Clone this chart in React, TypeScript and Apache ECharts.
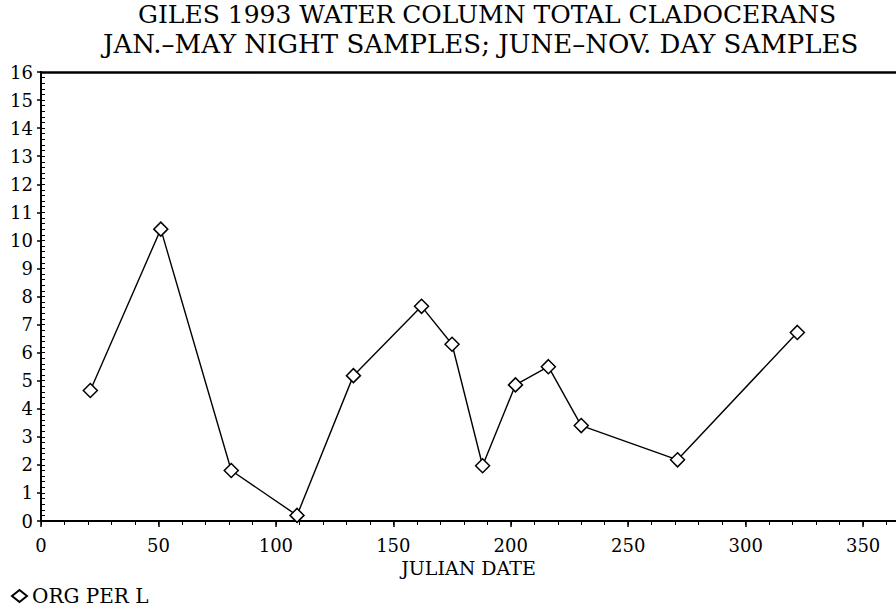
import React, { useEffect, useRef } from "react";
import * as echarts from "echarts";

const TITLE_LINE_1 = "GILES 1993 WATER COLUMN TOTAL CLADOCERANS";
const TITLE_LINE_2 = "JAN.–MAY NIGHT SAMPLES; JUNE–NOV. DAY SAMPLES";
const X_NAME = "JULIAN DATE";
const SERIES_NAME = "ORG PER L";

const julianDates = [21, 51, 81, 109, 133, 162, 175, 188, 202, 216, 230, 271, 322];
const orgPerL = [4.65, 10.4, 1.8, 0.2, 5.18, 7.65, 6.3, 1.97, 4.85, 5.5, 3.4, 2.18, 6.72];

const X_MIN = 0;
const X_MAX = 364;
const X_INTERVAL = 50;
const X_MINOR = 10;
const Y_MIN = 0;
const Y_MAX = 16;
const Y_INTERVAL = 1;
const Y_MINOR = 0.2;

const FONT = "DejaVu Serif";

export default function App() {
  const ref = useRef<HTMLDivElement>(null);
  useEffect(() => {
    if (!ref.current) return;
    const chart = echarts.init(ref.current, null, { renderer: "svg" });
    const data = julianDates.map((d, i) => [d, orgPerL[i]]);
    chart.setOption({
      animation: false,
      backgroundColor: "#ffffff",
      textStyle: { fontFamily: FONT, color: "#000" },
      grid: { left: 41, right: 0, top: 72, bottom: 87, containLabel: false },
      title: [
        {
          text: TITLE_LINE_1,
          left: 138,
          top: 2,
          padding: 0,
          textStyle: { fontFamily: FONT, fontSize: 25, fontWeight: "normal", color: "#000" },
        },
        {
          text: TITLE_LINE_2,
          left: 103,
          top: 31,
          padding: 0,
          textStyle: { fontFamily: FONT, fontSize: 26, fontWeight: "normal", color: "#000" },
        },
      ],
      legend: {
        left: 6,
        top: 581,
        icon: "diamond",
        itemWidth: 15,
        itemHeight: 12,
        itemGap: 6,
        textStyle: { fontFamily: FONT, fontSize: 20, color: "#000" },
        data: [SERIES_NAME],
      },
      xAxis: [
        {
          type: "value",
          min: X_MIN,
          max: X_MAX,
          interval: X_INTERVAL,
          position: "bottom",
          offset: 0,
          name: X_NAME,
          nameLocation: "middle",
          nameGap: 37,
          nameTextStyle: { fontFamily: FONT, fontSize: 19, color: "#000" },
          axisLine: { show: true, lineStyle: { color: "#000", width: 2 } },
          axisTick: { show: true, inside: false, length: 6, lineStyle: { color: "#000", width: 1.5 } },
          axisLabel: {
            show: true,
            margin: 15,
            fontFamily: FONT,
            fontSize: 18,
            color: "#000",
            showMaxLabel: false,
          },
          splitLine: { show: false },
        },
        {
          type: "value",
          min: X_MIN,
          max: X_MAX,
          interval: X_MINOR,
          position: "bottom",
          offset: 0,
          axisLine: { show: false },
          axisTick: { show: true, inside: false, length: 4, lineStyle: { color: "#000", width: 1 } },
          axisLabel: { show: false },
          splitLine: { show: false },
        },
        {
          type: "value",
          min: X_MIN,
          max: X_MAX,
          position: "top",
          offset: 0,
          axisLine: { show: true, lineStyle: { color: "#000", width: 2.5 } },
          axisTick: { show: false },
          axisLabel: { show: false },
          splitLine: { show: false },
        },
      ],
      yAxis: [
        {
          type: "value",
          min: Y_MIN,
          max: Y_MAX,
          interval: Y_INTERVAL,
          position: "left",
          offset: 0,
          axisLine: { show: true, lineStyle: { color: "#000", width: 2 } },
          axisTick: { show: true, inside: false, length: 4, lineStyle: { color: "#000", width: 1.5 } },
          axisLabel: { show: true, margin: 8, fontFamily: FONT, fontSize: 18, color: "#000" },
          splitLine: { show: false },
        },
        {
          type: "value",
          min: Y_MIN,
          max: Y_MAX,
          interval: Y_MINOR,
          position: "left",
          offset: 0,
          axisLine: { show: false },
          axisTick: { show: true, inside: true, length: 4, lineStyle: { color: "#000", width: 1 } },
          axisLabel: { show: false },
          splitLine: { show: false },
        },
      ],
      series: [
        {
          name: SERIES_NAME,
          type: "line",
          xAxisIndex: 0,
          yAxisIndex: 0,
          data,
          symbol: "diamond",
          symbolSize: 14,
          showAllSymbol: true,
          lineStyle: { color: "#000", width: 1.4 },
          itemStyle: { color: "#fff", borderColor: "#000", borderWidth: 1.5 },
          emphasis: { disabled: true },
          z: 3,
        },
      ],
    });
    return () => chart.dispose();
  }, []);
  return <div ref={ref} style={{ width: 896, height: 608, position: "absolute", left: 0, top: 0 }} />;
}
